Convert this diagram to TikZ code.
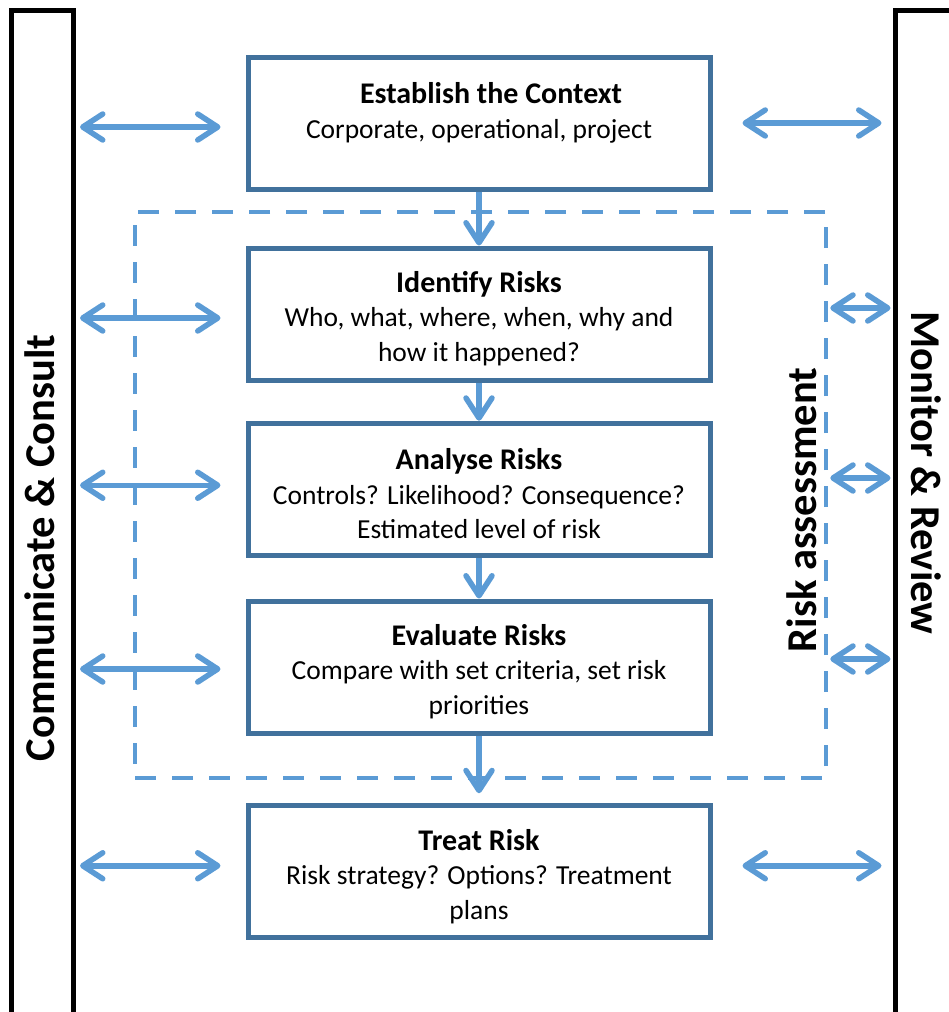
\documentclass[tikz,border=0pt]{standalone}
\usepackage{fontspec}
\setmainfont{Carlito}
\usetikzlibrary{arrows.meta}
\definecolor{boxblue}{HTML}{41719C}
\definecolor{arrblue}{HTML}{5B9BD5}
\newcommand{\steptitle}[1]{\rule{0pt}{30pt}{\fontsize{30}{34.5}\selectfont\bfseries #1}}
\begin{document}
\begin{tikzpicture}[x=1pt,y=-1pt,
  stepbox/.style={draw=boxblue, line width=5pt, minimum width=462pt, minimum height=132pt, inner sep=0pt, align=center, font=\fontsize{27.5}{34.5}\selectfont},
  flow/.style={draw=arrblue, line width=5.5pt, -{Straight Barb[length=20pt,width=26pt,round]}},
  both/.style={draw=arrblue, line width=5.5pt, {Straight Barb[length=20pt,width=26pt,round]}-{Straight Barb[length=20pt,width=26pt,round]}},
  sidebar/.style={draw=black, line width=5pt, inner sep=0pt},
  dashbox/.style={draw=arrblue, line width=4.5pt, dash pattern=on 21pt off 16pt, inner sep=0pt},
  vlabel/.style={font=\fontsize{42.5}{44}\selectfont\bfseries, inner sep=0pt}
]
\useasboundingbox (0,0) rectangle (948,1012);
% side bars
\node[sidebar, minimum width=62pt, minimum height=1010pt] (cc) at (42.5,515.5) {};
\node[sidebar, minimum width=66pt, minimum height=1010pt] (mr) at (928,515.5) {};
% dashed risk assessment frame
\node[dashbox, minimum width=691pt, minimum height=566pt] (ra) at (480.5,495) {};
% steps
\node[stepbox] (est) at (479,123) {\hspace*{24pt}\steptitle{Establish the Context}\\Corporate, operational, project\\\mbox{}};
\node[stepbox] (idf) at (479,314) {\steptitle{Identify Risks}\\Who, what, where, when, why and\\how it happened?};
\node[stepbox] (ana) at (479,489.25) {\steptitle{Analyse Risks}\\Controls? Likelihood? Consequence?\\Estimated level of risk};
\node[stepbox] (evl) at (479,667) {\steptitle{Evaluate Risks}\\Compare with set criteria, set risk\\priorities};
\node[stepbox] (trt) at (479,871.75) {\steptitle{Treat Risk}\\Risk strategy? Options? Treatment\\plans};
% labels
\node[vlabel, rotate=90] (cclab) at (40,548) {Communicate \& Consult};
\node[vlabel, rotate=-90] (mrlab) at (926,473) {Monitor \& Review};
\node[vlabel, rotate=90] (ralab) at (801.5,510) {Risk assessment};
% flow arrows
\draw[flow] (est.south) -- (idf.north);
\draw[flow] (idf.south) -- (ana.north);
\draw[flow] (ana.south) -- (evl.north);
\draw[flow, shorten >=10pt] (evl.south) -- (trt.north);
% left arrows
\draw[both] ([xshift=4pt,yshift=-4pt]cc.east |- est.west) -- ([xshift=-25pt,yshift=-4pt]est.west);
\draw[both] ([xshift=4pt,yshift=-4pt]cc.east |- idf.west) -- ([xshift=-25pt,yshift=-4pt]idf.west);
\draw[both] ([xshift=4pt,yshift=4pt]cc.east |- ana.west) -- ([xshift=-25pt,yshift=4pt]ana.west);
\draw[both] ([xshift=4pt,yshift=-2pt]cc.east |- evl.west) -- ([xshift=-25pt,yshift=-2pt]evl.west);
\draw[both] ([xshift=4pt,yshift=6pt]cc.east |- trt.west) -- ([xshift=-25pt,yshift=6pt]trt.west);
% right arrows
\draw[both] ([xshift=30pt]est.east) -- ([xshift=-11pt]mr.west |- est.east);
\draw[both] ([xshift=30pt,yshift=6pt]trt.east) -- ([xshift=-11pt,yshift=6pt]mr.west |- trt.east);
\draw[both] ([xshift=2pt,yshift=187pt]ra.east) -- ([xshift=-2pt,yshift=187pt]mr.west |- ra.east);
\draw[both] ([xshift=2pt,yshift=17pt]ra.east) -- ([xshift=-2pt,yshift=17pt]mr.west |- ra.east);
\draw[both] ([xshift=2pt,yshift=-164pt]ra.east) -- ([xshift=-2pt,yshift=-164pt]mr.west |- ra.east);
\end{tikzpicture}
\end{document}
